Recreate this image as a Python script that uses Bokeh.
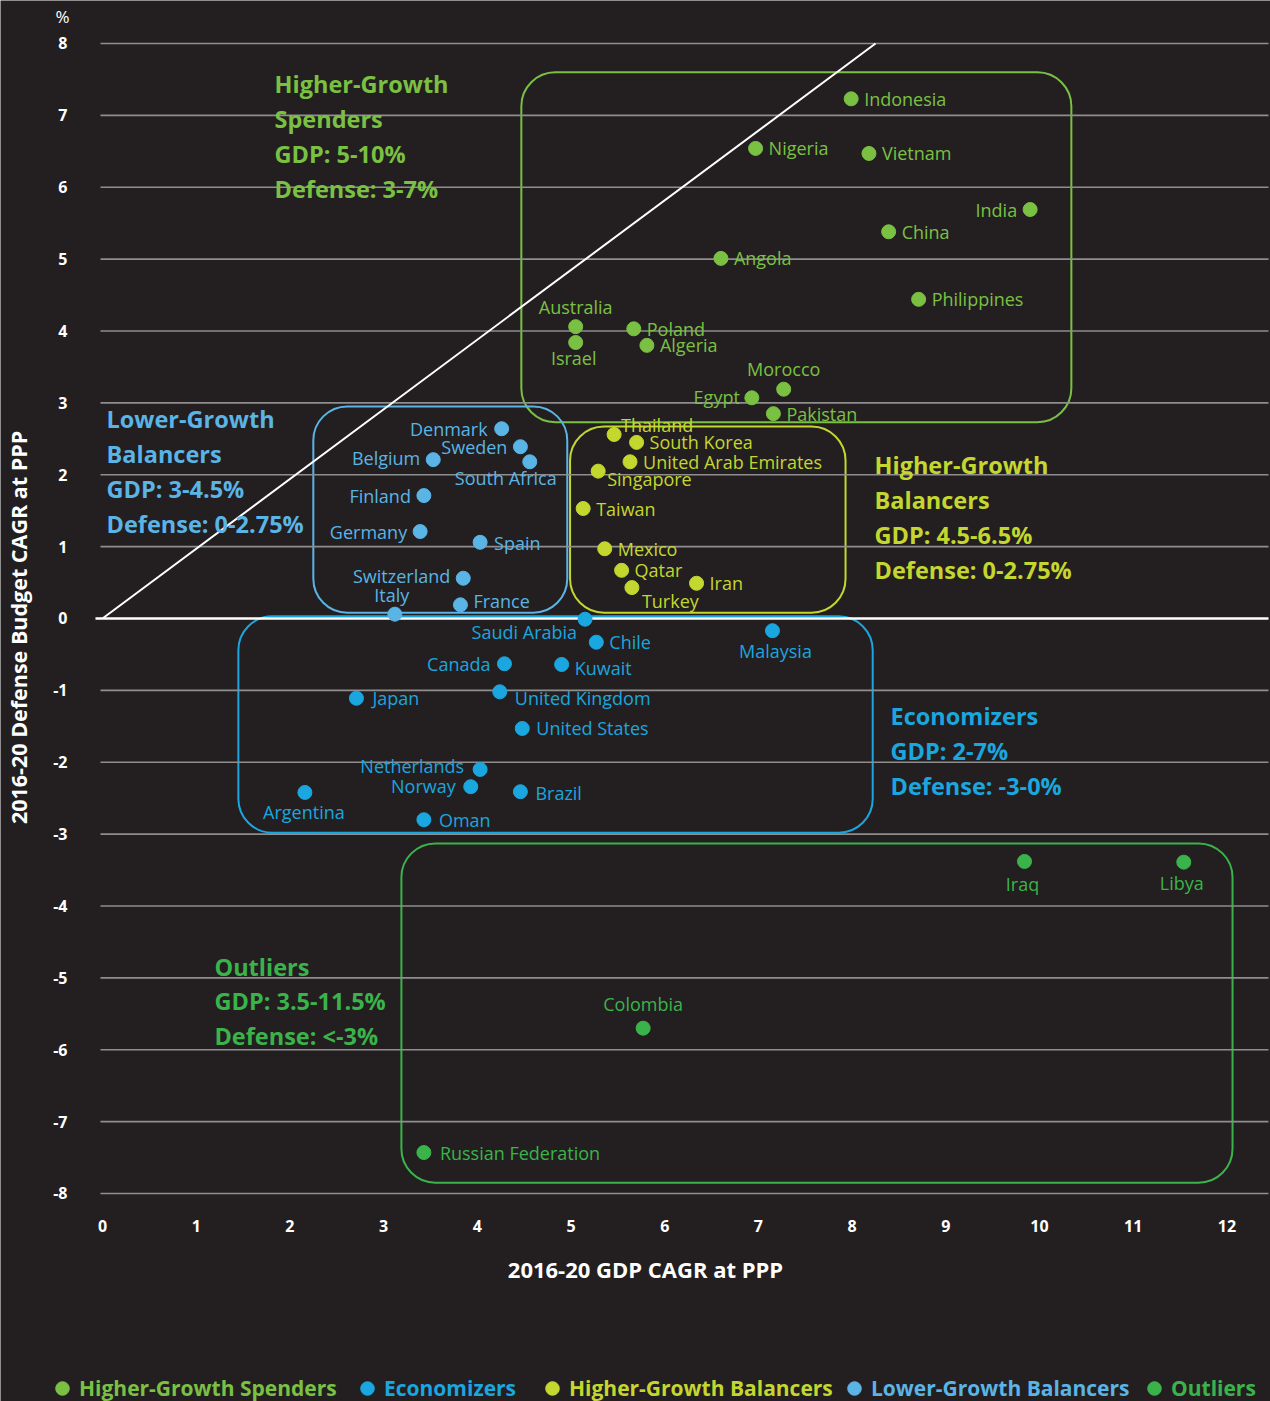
from bokeh.plotting import figure
from bokeh.models import (ColumnDataSource, FixedTicker, BoxAnnotation, Label,
                          Legend, LegendItem, Range1d)
from bokeh.core.properties import value, field
from bokeh.embed import file_html
from bokeh.resources import INLINE

# ---------------- data ----------------
hgs_names = ["Indonesia", "Nigeria", "Vietnam", "India", "China", "Angola", "Philippines",
             "Australia", "Israel", "Poland", "Algeria", "Morocco", "Egypt", "Pakistan"]
hgs_gdp = [7.99, 6.97, 8.18, 9.90, 8.39, 6.60, 8.71, 5.05, 5.05, 5.67, 5.81, 7.27, 6.93, 7.16]
hgs_def = [7.23, 6.54, 6.47, 5.69, 5.38, 5.01, 4.44, 4.06, 3.84, 4.03, 3.80, 3.19, 3.07, 2.85]

lgb_names = ["Denmark", "Sweden", "South Africa", "Belgium", "Finland", "Germany", "Spain",
             "Switzerland", "Italy", "France"]
lgb_gdp = [4.26, 4.46, 4.56, 3.53, 3.43, 3.39, 4.03, 3.85, 3.12, 3.82]
lgb_def = [2.64, 2.39, 2.18, 2.21, 1.71, 1.21, 1.06, 0.56, 0.06, 0.19]

hgb_names = ["Thailand", "South Korea", "United Arab Emirates", "Singapore", "Taiwan",
             "Mexico", "Qatar", "Iran", "Turkey"]
hgb_gdp = [5.46, 5.70, 5.63, 5.29, 5.13, 5.36, 5.54, 6.34, 5.65]
hgb_def = [2.56, 2.45, 2.18, 2.05, 1.53, 0.97, 0.67, 0.49, 0.43]

eco_names = ["Saudi Arabia", "Chile", "Malaysia", "Canada", "Kuwait", "Japan", "United Kingdom",
             "United States", "Netherlands", "Norway", "Brazil", "Argentina", "Oman"]
eco_gdp = [5.15, 5.27, 7.15, 4.29, 4.90, 2.71, 4.24, 4.48, 4.03, 3.93, 4.46, 2.16, 3.43]
eco_def = [-0.01, -0.33, -0.17, -0.63, -0.64, -1.11, -1.02, -1.53, -2.10, -2.34, -2.41, -2.42, -2.80]

out_names = ["Iraq", "Libya", "Colombia", "Russian Federation"]
out_gdp = [9.84, 11.54, 5.77, 3.43]
out_def = [-3.38, -3.39, -5.70, -7.43]

group_names = ["Higher-Growth Spenders", "Economizers", "Higher-Growth Balancers",
               "Lower-Growth Balancers", "Outliers"]
group_titles = {
    "Higher-Growth Spenders": ["Higher-Growth", "Spenders", "GDP: 5-10%", "Defense: 3-7%"],
    "Lower-Growth Balancers": ["Lower-Growth", "Balancers", "GDP: 3-4.5%", "Defense: 0-2.75%"],
    "Higher-Growth Balancers": ["Higher-Growth", "Balancers", "GDP: 4.5-6.5%", "Defense: 0-2.75%"],
    "Economizers": ["Economizers", "GDP: 2-7%", "Defense: -3-0%"],
    "Outliers": ["Outliers", "GDP: 3.5-11.5%", "Defense: <-3%"],
}
x_ticks = list(range(0, 13))
y_ticks = list(range(-8, 9))

# ---------------- style / layout ----------------
BG = "#231f20"
GRID = "#8e8e8e"
COLORS = {
    "Higher-Growth Spenders": "#7ac143",
    "Economizers": "#1aa6df",
    "Higher-Growth Balancers": "#c3d72e",
    "Lower-Growth Balancers": "#5ab4e5",
    "Outliers": "#3ab44a",
}
FONT = "Open Sans"

# view: the frame covers the whole canvas; axes sit at fixed locations
X_VIEW = (-1.0886, 12.4653)
Y_VIEW = (-10.894, 8.598)
AXIS_X_AT = -0.0213      # where the y axis sits
AXIS_Y_AT = -8.111       # where the x axis sits
GRID_X = (-0.0213, 12.444)
ZERO_X = (-0.075, 12.444)

# group box extents (left, right, top, bottom) in data units
BOXES = {
    "Higher-Growth Spenders": (4.47, 10.34, 7.60, 2.73),
    "Lower-Growth Balancers": (2.25, 4.96, 2.95, 0.08),
    "Higher-Growth Balancers": (4.99, 7.93, 2.67, 0.08),
    "Economizers": (1.45, 8.22, 0.03, -2.98),
    "Outliers": (3.19, 12.06, -3.13, -7.85),
}
# group title anchor (left x, first line y) in data units
TITLE_POS = {
    "Higher-Growth Spenders": (1.836, 7.43),
    "Lower-Growth Balancers": (0.043, 2.769),
    "Higher-Growth Balancers": (8.239, 2.129),
    "Economizers": (8.41, -1.363),
    "Outliers": (1.195, -4.842),
}
TITLE_LINE_STEP = 0.483
PARITY_END = (8.25, 8.0)

# label placement: (dx px, dy px, align)
DEFAULT_PLACE = (13, 0, "left")
PLACE = {
    "India": (-13, 0, "right"), "Australia": (0, -20, "center"), "Israel": (-2, 16, "center"),
    "Morocco": (0, -20, "center"), "Egypt": (-12, -1, "right"),
    "Denmark": (-14, 0, "right"), "Sweden": (-13, 0, "right"), "South Africa": (-24, 16, "center"),
    "Belgium": (-13, -2, "right"), "Finland": (-13, 0, "right"), "Germany": (-13, 0, "right"),
    "Spain": (14, 1, "left"), "Switzerland": (-13, -2, "right"), "Italy": (-3, -19, "center"),
    "France": (13, -4, "left"),
    "Thailand": (7, -9, "left"), "Singapore": (9, 8, "left"), "Turkey": (10, 13, "left"),
    "Saudi Arabia": (-8, 13, "right"), "Malaysia": (3, 20, "center"), "Canada": (-14, 0, "right"),
    "Kuwait": (13, 4, "left"), "Japan": (16, 0, "left"), "United Kingdom": (15, 6, "left"),
    "United States": (14, 0, "left"), "Netherlands": (-16, -3, "right"),
    "Norway": (-15, -1, "right"), "Brazil": (15, 1, "left"), "Argentina": (-1, 20, "center"),
    "Oman": (15, 0, "left"), "Iraq": (-2, 23, "center"), "Libya": (-2, 21, "center"),
    "Colombia": (0, -24, "center"), "Russian Federation": (16, 0, "left"),
}
LEG_X = [45, 350, 535, 837, 1137]
LEG_Y = -4
LEG_GLYPH = 34

p = figure(width=1270, height=1401, output_backend="svg", toolbar_location=None,
           x_range=Range1d(*X_VIEW), y_range=Range1d(*Y_VIEW),
           min_border_left=0, min_border_right=0, min_border_top=0, min_border_bottom=0,
           background_fill_color=BG, border_fill_color=BG, outline_line_color=None)
p.outline_line_alpha = 0
p.grid.visible = False

# axes
for ax in (p.xaxis[0], p.yaxis[0]):
    ax.axis_line_color = None
    ax.major_tick_line_color = None
    ax.minor_tick_line_color = None
    ax.major_tick_out = 0
    ax.major_tick_in = 0
    ax.minor_tick_out = 0
    ax.minor_tick_in = 0
    ax.major_label_text_color = "white"
    ax.major_label_text_font = FONT
    ax.major_label_text_font_style = "bold"
    ax.major_label_text_font_size = "16px"
    ax.axis_label_text_color = "white"
    ax.axis_label_text_font = FONT
    ax.axis_label_text_font_style = "bold"

p.xaxis.axis_label_text_font_size = "22px"
p.yaxis.axis_label_text_font_size = "21.5px"
p.xaxis.ticker = FixedTicker(ticks=x_ticks)
p.yaxis.ticker = FixedTicker(ticks=y_ticks)
p.yaxis.major_label_overrides = {t: str(t) for t in y_ticks}
p.xaxis.axis_label = "2016-20 GDP CAGR at PPP"
p.yaxis.axis_label = "2016-20 Defense Budget CAGR at PPP"
p.xaxis.fixed_location = AXIS_Y_AT
p.yaxis.fixed_location = AXIS_X_AT
p.xaxis.bounds = (-0.41, 12.001)
p.yaxis.bounds = (-8.3, 8.05)
p.xaxis.major_label_standoff = 19
p.xaxis.axis_label_standoff = 18
p.yaxis.major_label_standoff = 33
p.yaxis.axis_label_standoff = 17

# horizontal grid lines, zero line, parity line
grid_y = [t for t in y_ticks if t != 0]
p.segment(x0=[GRID_X[0]] * len(grid_y), x1=[GRID_X[1]] * len(grid_y), y0=grid_y, y1=grid_y,
          line_color=GRID, line_width=1.6)
p.segment(x0=[ZERO_X[0]], x1=[ZERO_X[1]], y0=[0], y1=[0], line_color="white", line_width=2.5)
p.line([0, PARITY_END[0]], [0, PARITY_END[1]], line_color="white", line_width=2)

# group boxes
for g, (l, r, t, b) in BOXES.items():
    p.add_layout(BoxAnnotation(left=l, right=r, top=t, bottom=b, fill_alpha=0,
                               line_color=COLORS[g], line_alpha=1, line_width=2,
                               border_radius=34, level="underlay"))

groups = {
    "Higher-Growth Spenders": (hgs_names, hgs_gdp, hgs_def),
    "Economizers": (eco_names, eco_gdp, eco_def),
    "Higher-Growth Balancers": (hgb_names, hgb_gdp, hgb_def),
    "Lower-Growth Balancers": (lgb_names, lgb_gdp, lgb_def),
    "Outliers": (out_names, out_gdp, out_def),
}

renderers = {}
for g in group_names:
    names, xs, ys = groups[g]
    pl = [PLACE.get(n, DEFAULT_PLACE) for n in names]
    src = ColumnDataSource(dict(name=names, gdp=xs, defense=ys,
                                dx=[q[0] for q in pl], dy=[q[1] for q in pl],
                                align=[q[2] for q in pl]))
    renderers[g] = p.scatter("gdp", "defense", source=src, size=14, color=COLORS[g])
    p.text("gdp", "defense", text="name", source=src, x_offset=field("dx"), y_offset=field("dy"),
           text_align=field("align"), text_baseline="middle", text_color=COLORS[g],
           text_font=value(FONT), text_font_size="18px")

# group titles
for g, lines in group_titles.items():
    x0, y0 = TITLE_POS[g]
    for i, line in enumerate(lines):
        p.add_layout(Label(x=x0, y=y0 - i * TITLE_LINE_STEP, text=line, text_color=COLORS[g],
                           text_font=FONT, text_font_style="bold", text_font_size="23.5px",
                           text_baseline="middle", text_align="left"))

# percent unit marker
p.add_layout(Label(x=-0.427, y=8.376, text="%", text_color="white", text_font=FONT,
                   text_font_size="17px", text_align="center", text_baseline="middle"))

# legends (one per group so each label carries its group's colour)
for g, lx in zip(group_names, LEG_X):
    leg = Legend(items=[LegendItem(label=g, renderers=[renderers[g]])], location=(lx, LEG_Y),
                 orientation="horizontal", background_fill_alpha=0, border_line_alpha=0,
                 padding=0, margin=0, spacing=0, glyph_width=LEG_GLYPH, glyph_height=LEG_GLYPH,
                 label_standoff=0, label_height=LEG_GLYPH, label_text_color=COLORS[g],
                 label_text_font=FONT, label_text_font_style="bold",
                 label_text_font_size="21px")
    p.add_layout(leg, "center")

open("out.html", "w").write(file_html(p, INLINE))
